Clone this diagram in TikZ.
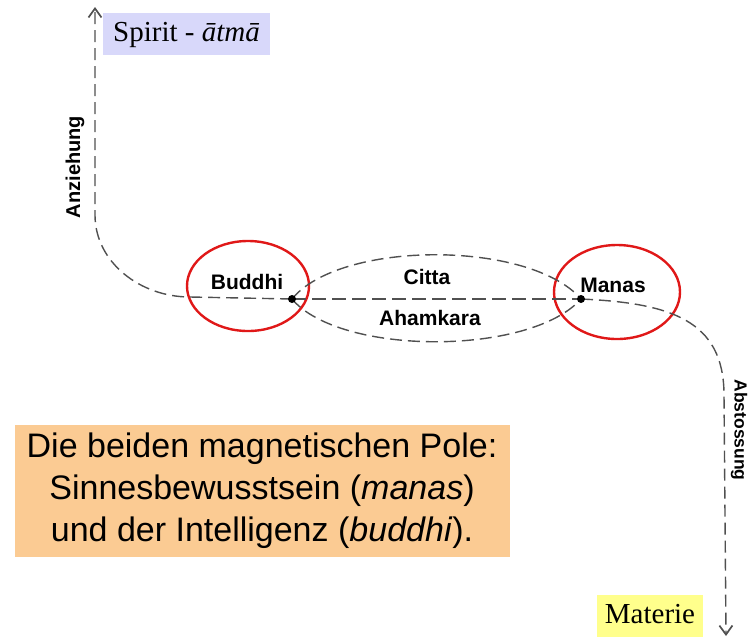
\documentclass[tikz,border=0pt]{standalone}
\usepackage{fontspec}
\setmainfont{Liberation Serif}
\newfontfamily\labelfont{Liberation Sans}
\usetikzlibrary{arrows.meta,shapes.geometric}

\definecolor{spiritblue}{HTML}{D8D8FA}
\definecolor{matyellow}{HTML}{FFFF8C}
\definecolor{noteorange}{HTML}{FBCB93}
\definecolor{ringred}{HTML}{E01818}
\definecolor{dashgray}{HTML}{505050}

\pgfdeclarelayer{front}
\pgfsetlayers{main,front}

\tikzset{
  flow/.style={draw=dashgray, line width=1.4pt, dash pattern=on 12pt off 6pt},
  axis/.style={flow, line width=1.8pt, dash pattern=on 14pt off 6pt},
  tipped/.style={-{Straight Barb[length=9pt,width=13pt,line width=1.7pt]}},
  ring/.style={ellipse, draw=ringred, line width=2.4pt, inner sep=0pt},
  pole/.style={circle, fill=black, inner sep=0pt, minimum size=8pt},
  boldlbl/.style={font=\labelfont\bfseries\fontsize{21}{24}\selectfont, inner sep=0pt},
  tag/.style={font=\fontsize{29}{33}\selectfont, inner sep=0pt, text height=21pt, text depth=7pt},
}

\begin{document}
\begin{tikzpicture}[x=1pt, y=-1pt]
  \useasboundingbox (0,0) rectangle (749,638);

  % labelled boxes
  \node[tag, fill=spiritblue, minimum width=167pt, minimum height=42pt] (spirit) at (186.5,34) {Spirit - \textit{ātmā}};
  \node[tag, fill=matyellow, minimum width=106pt, minimum height=42pt] (materie) at (650,616) {Materie};
  \node[fill=noteorange, minimum width=495pt, minimum height=132pt, align=center,
        font=\labelfont\fontsize{34}{42}\selectfont] (note) at (262,491)
        {Die beiden magnetischen Pole:\\Sinnesbewusstsein (\textit{manas})\\und der Intelligenz (\textit{buddhi}).};

  % the two poles
  \node[ring, minimum width=122pt, minimum height=90pt] (buddhi) at (248,286) {};
  \node[ring, minimum width=126pt, minimum height=94pt] (manas) at (617,292) {};
  \node[boldlbl] (buddhilbl) at (247,282) {Buddhi};
  \node[boldlbl] (manaslbl) at (613,285) {Manas};
  \begin{pgfonlayer}{front}
    \node[pole] (bdot) at (292,299) {};
    \node[pole] (mdot) at (581,299) {};
  \end{pgfonlayer}

  % axis between the poles and the two arcs
  \draw[axis] (bdot.center) -- (mdot.center);
  \draw[flow] (bdot.center) .. controls (340,240) and (530,240) .. (mdot.center);
  \draw[flow] (bdot.center) .. controls (340,356) and (530,356) .. (mdot.center);
  \node[boldlbl] (citta) at (427,277) {Citta};
  \node[boldlbl] (ahamkara) at (430,318) {Ahamkara};

  % attraction upwards to spirit
  \coordinate (topend) at (95,7);
  \draw[flow, tipped] (bdot.center) -- (190,297) .. controls (140,297) and (95,262) .. (95,215) -- (topend);
  \node[font=\labelfont\bfseries\fontsize{20}{24}\selectfont, rotate=90, inner sep=0pt] (anz) at (75,167) {Anziehung};

  % repulsion downwards to matter
  \coordinate (bottomend) at (726,636);
  \draw[flow, tipped] (mdot.center) .. controls (670,303) and (724,320) .. (724,395) -- (bottomend);
  \node[font=\labelfont\bfseries\fontsize{17.5}{21}\selectfont, rotate=-90, inner sep=0pt] (abs) at (739,430) {Abstossung};
\end{tikzpicture}
\end{document}
